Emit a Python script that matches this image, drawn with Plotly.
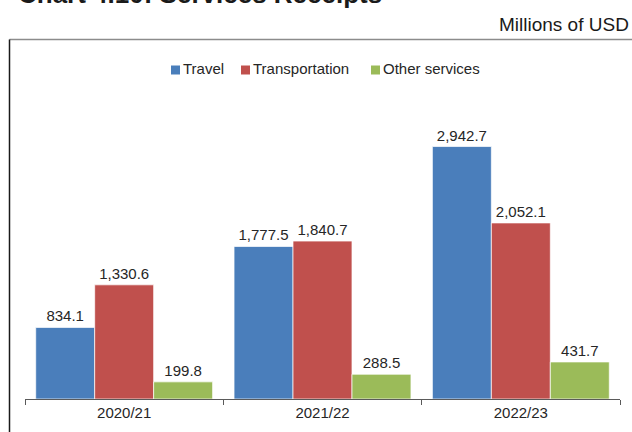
import plotly.graph_objects as go

# Services receipts by fiscal year, millions of USD
years = ["2020/21", "2021/22", "2022/23"]
travel = [834.1, 1777.5, 2942.7]
transportation = [1330.6, 1840.7, 2052.1]
other_services = [199.8, 288.5, 431.7]

series = [
    ("Travel", travel, "#4A7EBB"),
    ("Transportation", transportation, "#C0504D"),
    ("Other services", other_services, "#9BBB59"),
]

FONT = "Arial, Liberation Sans, sans-serif"

fig = go.Figure()
for name, vals, color in series:
    fig.add_trace(go.Bar(
        name=name,
        x=years,
        y=vals,
        marker=dict(color=color, line=dict(color="rgba(255,255,255,0.7)", width=1)),
        text=vals,
        texttemplate="%{y:,.1f}",
        textposition="outside",
        textfont=dict(family=FONT, size=15, color="#262626"),
        cliponaxis=False,
        showlegend=False,
    ))

# plot area geometry in pixels, used to place the frame, legend and headings
L, R, T, B = 25, 12, 98, 33
W, H = 632, 432
pw, ph = W - L - R, H - T - B


def px_x(px):
    return (px - L) / pw


def px_y(py):
    return (H - B - py) / ph


fig.update_layout(
    width=W,
    height=H,
    margin=dict(l=L, r=R, t=T, b=B, pad=0),
    paper_bgcolor="white",
    plot_bgcolor="white",
    barmode="group",
    bargap=0.108,
    bargroupgap=0,
    font=dict(family=FONT, size=15, color="#262626"),
    showlegend=False,
    xaxis=dict(
        showline=True,
        linecolor="#5a5a5a",
        linewidth=1,
        ticks="outside",
        ticklen=5,
        tickcolor="#5a5a5a",
        tickson="boundaries",
        tickfont=dict(family=FONT, size=15, color="#262626"),
        showgrid=False,
        zeroline=False,
    ),
    yaxis=dict(
        range=[0, ph / 0.0858],
        visible=False,
        showgrid=False,
        zeroline=False,
    ),
)

# compact legend: small square swatch followed by the series name
legend_x = [171, 241, 371]
legend_cy = 70
for (name, _, color), sx in zip(series, legend_x):
    fig.add_shape(type="rect", xref="paper", yref="paper",
                  x0=px_x(sx), x1=px_x(sx + 9),
                  y0=px_y(legend_cy - 4.5), y1=px_y(legend_cy + 4.5),
                  fillcolor=color, line=dict(width=0))
    fig.add_annotation(
        text=name, xref="paper", yref="paper",
        x=px_x(sx + 10), y=px_y(legend_cy - 1), xanchor="left", yanchor="middle",
        showarrow=False,
        font=dict(family=FONT, size=15, color="#262626"),
    )

# outer frame: dark left edge, grey top edge
fig.add_shape(type="line", xref="paper", yref="paper",
              x0=px_x(9.5), x1=px_x(640), y0=px_y(39.5), y1=px_y(39.5),
              line=dict(color="#8c8c8c", width=1.5))
fig.add_shape(type="line", xref="paper", yref="paper",
              x0=px_x(9.5), x1=px_x(9.5), y0=px_y(39.5), y1=px_y(440),
              line=dict(color="#1a1a1a", width=1.5))

fig.add_annotation(
    text="<b>Chart 4.10: Services Receipts</b>",
    xref="paper", yref="paper",
    x=px_x(15.5), y=px_y(11), xanchor="left", yanchor="bottom",
    showarrow=False,
    font=dict(family=FONT, size=26, color="#1a1a1a"),
)
fig.add_annotation(
    text="Millions of USD",
    xref="paper", yref="paper",
    x=px_x(631), y=px_y(37), xanchor="right", yanchor="bottom",
    showarrow=False,
    font=dict(family=FONT, size=19, color="#1a1a1a"),
)

fig.write_html("out.html")
